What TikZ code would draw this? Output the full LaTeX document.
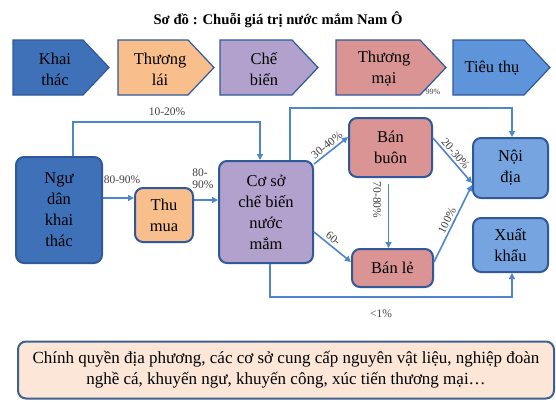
\documentclass[tikz,border=0pt]{standalone}
\usepackage{fontspec}
\setmainfont{Liberation Serif}
\usetikzlibrary{arrows.meta}

\definecolor{khaiblue}{HTML}{3F71B9}
\definecolor{edgeblue}{HTML}{30599A}
\definecolor{laiorange}{HTML}{F8BF8D}
\definecolor{bienpurple}{HTML}{B2A1CC}
\definecolor{mairose}{HTML}{D99493}
\definecolor{thublue}{HTML}{5E95DA}
\definecolor{diablue}{HTML}{75A4E0}
\definecolor{flowblue}{HTML}{4F85CC}
\definecolor{notepeach}{HTML}{FCE6D8}
\definecolor{noteedge}{HTML}{3F5F8F}

\tikzset{
  box/.style={draw=edgeblue, line width=2pt, rounded corners=8pt, align=center,
    font=\fontsize{16.5}{21}\selectfont, inner sep=0pt},
  chev/.style={draw=edgeblue, line width=1.2pt},
  tag/.style={align=center, font=\fontsize{16.5}{21}\selectfont},
  flow/.style={draw=flowblue, line width=1.6pt, -{Triangle[length=6pt,width=6pt]}},
  pct/.style={font=\fontsize{11.5}{12}\selectfont, text=black!75, inner sep=0.5pt}
}

\begin{document}
\begin{tikzpicture}[x=1pt, y=-1pt]
  \useasboundingbox (0,0) rectangle (556,402);

  % Title
  \node[font=\bfseries\fontsize{14.7}{16}\selectfont] (title) at (278,20)
    {Sơ đồ : Chuỗi giá trị nước mắm Nam Ô};

  % Chain stages (top chevrons)
  \filldraw[chev, fill=khaiblue]   (13,40) -- (83,40) -- (109,67.5) -- (83,95) -- (13,95) -- cycle;
  \filldraw[chev, fill=laiorange]  (118,40) -- (188,40) -- (214,67.5) -- (188,95) -- (118,95) -- cycle;
  \filldraw[chev, fill=bienpurple] (220,40) -- (292,40) -- (318,67.5) -- (292,95) -- (220,95) -- cycle;
  \filldraw[chev, fill=mairose]    (336,40) -- (420,40) -- (446,67.5) -- (420,95) -- (336,95) -- cycle;
  \filldraw[chev, fill=thublue]    (453,40) -- (524,40) -- (550,67.5) -- (524,95) -- (453,95) -- cycle;

  \node[tag] (khai) at (55,69)  {Khai\\thác};
  \node[tag] (lai)  at (160,69) {Thương\\lái};
  \node[tag] (bien) at (264,69) {Chế\\biến};
  \node[tag] (mai)  at (384,69) {Thương\\mại};
  \node[tag] (thu)  at (492,68) {Tiêu thụ};
  \node[pct, font=\fontsize{8}{9}\selectfont] (p99) at (433,92) {99\%};

  % Actors
  \node[box, fill=khaiblue, minimum width=86pt, minimum height=106pt] (ngu) at (59,210)
    {Ngư\\dân\\khai\\thác};
  \node[box, fill=laiorange, minimum width=58pt, minimum height=54pt] (thumua) at (164,215)
    {Thu\\mua};
  \node[box, fill=bienpurple, minimum width=94pt, minimum height=102pt] (coso) at (266,212)
    {Cơ sở\\chế biến\\nước\\mắm};
  \node[box, fill=mairose, minimum width=83pt, minimum height=59pt] (banbuon) at (390.5,147.5)
    {Bán\\buôn};
  \node[box, fill=mairose, minimum width=81pt, minimum height=38pt] (banle) at (392.5,268)
    {Bán lẻ};
  \node[box, fill=diablue, minimum width=75pt, minimum height=60pt] (noidia) at (510.5,168)
    {Nội\\địa};
  \node[box, fill=diablue, minimum width=75pt, minimum height=54pt] (xuatkhau) at (510.5,245)
    {Xuất\\khẩu};

  % Support box
  \node[box, draw=noteedge, fill=notepeach, minimum width=536pt, minimum height=57pt,
    font=\fontsize{17}{21}\selectfont] (note) at (286,370)
    {Chính quyền địa phương, các cơ sở cung cấp nguyên vật liệu, nghiệp đoàn\\
     nghề cá, khuyến ngư, khuyến công, xúc tiến thương mại…};

  % Route corners
  \coordinate (top1) at (160,122);
  \coordinate (top2) at (400,108);
  \coordinate (bot1) at (400,297);

  % Flows
  \draw[flow] ([xshift=14]ngu.north) |- (top1) -| ([xshift=-6]coso.north);
  \draw[flow] ([xshift=24]coso.north) |- (top2) -| ([xshift=1.5]noidia.north);
  \draw[flow] ([yshift=12]ngu.east) -- ([yshift=17]thumua.west);
  \draw[flow] ([yshift=15]thumua.east) -- ([yshift=12]coso.west);
  \draw[flow] ([yshift=-4]coso.north east) -- node[pct, sloped, above=1.5pt] (p3040) {30-40\%} ([yshift=10.5]banbuon.west);
  \draw[flow] ([yshift=-20]coso.east) -- node[pct, sloped, above=2pt, pos=0.4] (p60) {60-} ([yshift=6]banle.west);
  \draw[flow] ([xshift=-2, yshift=-6]banbuon.south) -- ([xshift=-4]banle.north);
  \draw[flow] ([yshift=9.5]banbuon.east) -- node[pct, sloped, above=1.5pt, pos=0.45] (p2030) {20-30\%} ([yshift=-15]noidia.west);
  \draw[flow] ([yshift=6]banle.east) -- node[pct, sloped, above=1.5pt] (p100) {100\%} ([yshift=-17]noidia.west);
  \draw[flow] ([xshift=4]coso.south) |- (bot1) -| ([xshift=1.5]xuatkhau.south);

  % Share labels
  \node[pct] (p1020) at (167,112) {10-20\%};
  \node[pct] (p8090a) at (122,180) {80-90\%};
  \node[pct, align=left] (p8090b) at (203,179) {80-\\90\%};
  \node[pct, rotate=-90] (p7080) at (377,200) {70-80\%};
  \node[pct] (p1) at (381,314) {<1\%};
\end{tikzpicture}
\end{document}
